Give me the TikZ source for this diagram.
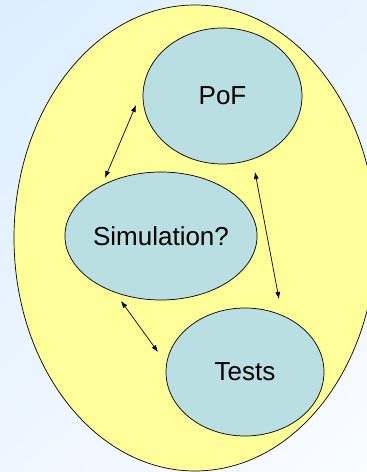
\documentclass[tikz,border=0pt]{standalone}
\usepackage{fontspec}
\setmainfont{Liberation Sans}
\usetikzlibrary{shapes.geometric,arrows.meta,shadings}
\definecolor{bgblue}{RGB}{220,238,255}
\definecolor{bgwhite}{RGB}{250,252,255}
\definecolor{paleyellow}{RGB}{255,255,153}
\definecolor{paleteal}{RGB}{185,223,227}
\tikzset{
  topic/.style={ellipse, draw=black, line width=0.7pt, fill=paleteal,
    inner sep=0pt, font=\fontsize{26}{30}\selectfont},
  link/.style={{Latex[length=7pt,width=5pt]}-{Latex[length=7pt,width=5pt]}, line width=0.7pt}
}
\begin{document}
\begin{tikzpicture}[x=1pt,y=1pt]
  \useasboundingbox (0,0) rectangle (367,472);
  % background wash
  \shade[upper left=bgblue, upper right=bgblue!60!bgwhite,
         lower left=bgblue!40!bgwhite, lower right=bgwhite] (0,0) rectangle (367,472);
  % enclosing field
  \node[ellipse, draw=black, line width=0.7pt, fill=paleyellow, inner sep=0pt,
        minimum width=362pt, minimum height=466pt] (field) at (195,234) {};
  % topics
  \node[topic, minimum width=159pt, minimum height=136pt] (pof) at (222.5,376) {PoF};
  \node[topic, minimum width=174pt, minimum height=128pt] (sim) at (161,236) {Simulation?};
  \node[topic, minimum width=158pt, minimum height=128pt] (tests) at (245,100) {Tests};
  % connector ends
  \coordinate (simtop) at (105,294);
  \coordinate (pofleft) at (136,367);
  \coordinate (pofbottom) at (255,300);
  \coordinate (teststop) at (279,173);
  \coordinate (simbottom) at (121,171);
  \coordinate (testsleft) at (158,120);
  % links
  \draw[link] (simtop) -- (pofleft);
  \draw[link] (pofbottom) -- (teststop);
  \draw[link] (simbottom) -- (testsleft);
\end{tikzpicture}
\end{document}
